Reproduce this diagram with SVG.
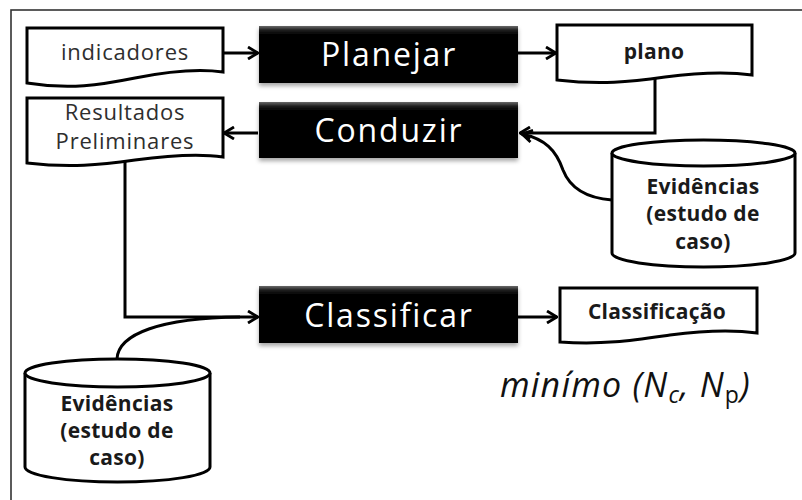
<svg xmlns="http://www.w3.org/2000/svg" width="802" height="500" viewBox="0 0 802 500">
  <defs>
    <linearGradient id="boxGrad" x1="0" y1="0" x2="0" y2="1">
      <stop offset="0" stop-color="#6a6a6a"/>
      <stop offset="0.07" stop-color="#222"/>
      <stop offset="0.15" stop-color="#000"/>
      <stop offset="1" stop-color="#000"/>
    </linearGradient>
    <filter id="shadow" x="-10%" y="-10%" width="120%" height="140%">
      <feDropShadow dx="0" dy="3" stdDeviation="2" flood-color="#000" flood-opacity="0.35"/>
    </filter>
    <marker id="arrow" viewBox="0 0 12 14" refX="11" refY="7" markerWidth="12" markerHeight="14" markerUnits="userSpaceOnUse" orient="auto">
      <path d="M1,1 L11,7 L1,13" fill="none" stroke="#000" stroke-width="2.8" stroke-linejoin="miter"/>
    </marker>
  </defs>
  <style>
    .frame { fill: #fff; stroke: #333; stroke-width: 1.6; }
    .box { fill: url(#boxGrad); filter: url(#shadow); }
    .boxText { font-family: "Open Sans", "Liberation Sans", sans-serif; font-size: 32px; fill: #fff; letter-spacing: 1.8px; text-anchor: middle; }
    .doc { fill: #fff; stroke: #000; stroke-width: 3; stroke-linejoin: miter; }
    .docText { font-family: "Open Sans", "Liberation Sans", sans-serif; font-size: 22px; fill: #2e2e2e; letter-spacing: 0.8px; text-anchor: middle; }
    .boldText { font-family: "Open Sans", "Liberation Sans", sans-serif; font-size: 21px; font-weight: bold; fill: #1a1a1a; letter-spacing: 0.3px; text-anchor: middle; }
    .cyl { fill: #fff; stroke: #000; stroke-width: 3; }
    .conn { fill: none; stroke: #000; stroke-width: 3; }
    .formula { font-family: "Open Sans", "Liberation Sans", sans-serif; font-size: 34px; font-style: italic; fill: #111; letter-spacing: 1.2px; }
  </style>

  <rect class="frame" x="11" y="10" width="800" height="500"/>

  <g id="connectors">
    <line class="conn" x1="223" y1="53" x2="258" y2="53" marker-end="url(#arrow)"/>
    <line class="conn" x1="518" y1="53" x2="556" y2="53" marker-end="url(#arrow)"/>
    <polyline class="conn" points="655,78 655,133 520,133" marker-end="url(#arrow)"/>
    <line class="conn" x1="258" y1="133" x2="224" y2="133" marker-end="url(#arrow)"/>
    <path class="conn" d="M612,200 C585,198 570,188 563,170 C556,150 545,139 522,134" marker-end="url(#arrow)"/>
    <polyline class="conn" points="125,162 125,317 258,317" marker-end="url(#arrow)"/>
    <path class="conn" d="M117,359 C118,334 160,318 240,317"/>
    <line class="conn" x1="518" y1="317" x2="557" y2="317" marker-end="url(#arrow)"/>
  </g>

  <g id="indicadores">
    <path class="doc" d="M27,28 H223 V72 C195,68 165,72 135,78 C100,85 70,90 27,83 Z"/>
    <text class="docText" x="125" y="60">indicadores</text>
  </g>

  <g id="planejar">
    <rect class="box" x="259" y="26" width="259" height="57"/>
    <text class="boxText" x="389" y="66">Planejar</text>
  </g>

  <g id="plano">
    <path class="doc" d="M557,25 H752 V75 C725,71 695,73 665,77 C630,82 600,85 557,80 Z"/>
    <text class="boldText" x="654" y="59">plano</text>
  </g>

  <g id="resultados">
    <path class="doc" d="M27,98 H223 V157 C195,153 165,156 135,160 C100,165 70,168 27,163 Z"/>
    <text class="docText" x="125" y="120">Resultados</text>
    <text class="docText" x="125" y="149">Preliminares</text>
  </g>

  <g id="conduzir">
    <rect class="box" x="259" y="102" width="259" height="56"/>
    <text class="boxText" x="389" y="142">Conduzir</text>
  </g>

  <g id="evidencias1">
    <path class="cyl" d="M612,153 V253 A91.5,14 0 0 0 795,253 V153"/>
    <ellipse class="cyl" cx="703.5" cy="153" rx="91.5" ry="13"/>
    <text class="boldText" x="703" y="194">Evidências</text>
    <text class="boldText" x="703" y="221">(estudo de</text>
    <text class="boldText" x="703" y="249">caso)</text>
  </g>

  <g id="classificar">
    <rect class="box" x="259" y="286" width="259" height="57"/>
    <text class="boxText" x="389" y="327">Classificar</text>
  </g>

  <g id="classificacao">
    <path class="doc" d="M560,288 H757 V333 C730,329 700,331 670,335 C635,340 605,345 560,342 Z"/>
    <text class="boldText" x="657" y="319">Classificação</text>
  </g>

  <g id="evidencias2">
    <path class="cyl" d="M25,373 V467 A92.5,15 0 0 0 210,467 V373"/>
    <ellipse class="cyl" cx="117.5" cy="373" rx="92.5" ry="14"/>
    <text class="boldText" x="117" y="411">Evidências</text>
    <text class="boldText" x="117" y="438">(estudo de</text>
    <text class="boldText" x="117" y="465">caso)</text>
  </g>

  <g id="formula">
    <text class="formula" x="500" y="397">minímo (N<tspan font-size="23" dy="6">c</tspan><tspan dy="-6">, N</tspan><tspan font-size="23" font-style="normal" dy="6">p</tspan><tspan dy="-6">)</tspan></text>
  </g>
</svg>
